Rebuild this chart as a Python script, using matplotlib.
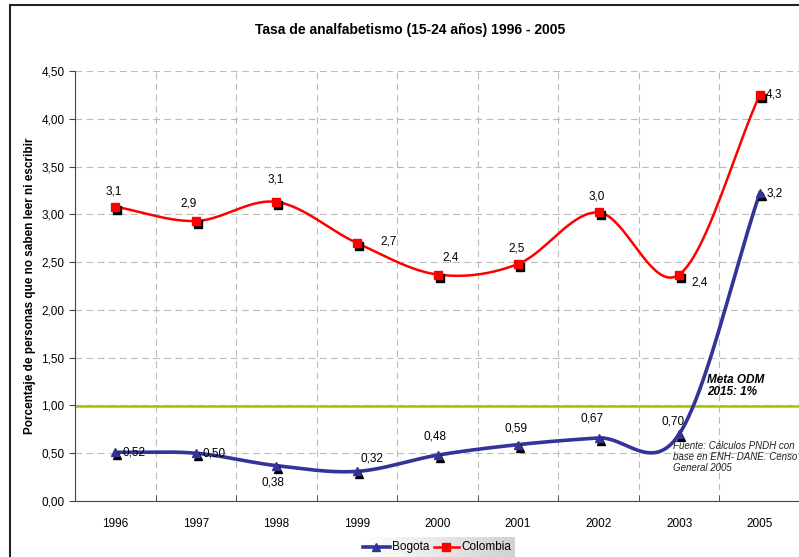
import numpy as np
import matplotlib
matplotlib.use("Agg")
import matplotlib.pyplot as plt
from matplotlib.patches import Rectangle
import matplotlib.transforms as mtransforms

plt.rcParams['font.family'] = ['Liberation Sans', 'DejaVu Sans']

years = ['1996', '1997', '1998', '1999', '2000', '2001', '2002', '2003', '2005']
colombia = [3.08, 2.93, 3.13, 2.70, 2.37, 2.48, 3.02, 2.37, 4.25]
colombia_labels = ['3,1', '2,9', '3,1', '2,7', '2,4', '2,5', '3,0', '2,4', '4,3']
bogota = [0.51, 0.50, 0.37, 0.31, 0.48, 0.59, 0.66, 0.70, 3.22]
bogota_labels = ['0,52', '0,50', '0,38', '0,32', '0,48', '0,59', '0,67', '0,70', '3,2']
meta_odm = 0.99

# label offsets in pixels (dx, dy; dy positive = up)
col_off = [(-2, 15), (-7, 18), (-1, 22), (32, 2), (13, 17), (-1, 16), (-2, 16), (20, -8), (14, 0)]
bog_off = [(19, 0), (18, 0), (-3, -17), (15, 13), (-2, 19), (-2, 16), (-7, 19), (-6, 13), (15, 0)]


def catmull_rom(y, n=40):
    x = np.arange(len(y), dtype=float)
    y = np.asarray(y, dtype=float)
    px = np.concatenate([[2 * x[0] - x[1]], x, [2 * x[-1] - x[-2]]])
    py = np.concatenate([[2 * y[0] - y[1]], y, [2 * y[-1] - y[-2]]])
    xs, ys = [], []
    t = np.linspace(0, 1, n)
    for i in range(1, len(px) - 2):
        for p, out in ((px, xs), (py, ys)):
            p0, p1, p2, p3 = p[i - 1], p[i], p[i + 1], p[i + 2]
            out.append(0.5 * ((2 * p1) + (-p0 + p2) * t
                              + (2 * p0 - 5 * p1 + 4 * p2 - p3) * t ** 2
                              + (-p0 + 3 * p1 - 3 * p2 + p3) * t ** 3))
    return np.concatenate(xs), np.concatenate(ys)


fig = plt.figure(figsize=(7.99, 5.57), dpi=100)
fig.patches.append(Rectangle((10 / 799, -0.01), 1.0, 1 - 5 / 557 + 0.01, transform=fig.transFigure,
                             fill=False, edgecolor='#222222', linewidth=1.5, zorder=0))
ax = fig.add_axes([75 / 799, 1 - 501 / 557, 725 / 799, 430 / 557])

x = np.arange(len(years))
ax.set_xlim(-0.5, len(years) - 0.5)
ax.set_ylim(0, 4.5)

ax.axhline(meta_odm, color='#99cc00', linewidth=1.8, zorder=2)

sx, sy = catmull_rom(bogota)
ax.plot(sx, sy, color='#333399', linewidth=2.6, zorder=3)
sx, sy = catmull_rom(colombia)
ax.plot(sx, sy, color='#ff0000', linewidth=1.8, zorder=3)

shadow = mtransforms.offset_copy(ax.transData, fig=fig, x=2, y=-3, units='dots')
ax.plot(x, bogota, linestyle='none', marker='^', markersize=6, color='black', transform=shadow, zorder=4)
ax.plot(x, bogota, linestyle='none', marker='^', markersize=6, color='#333399', zorder=5)
ax.plot(x, colombia, linestyle='none', marker='s', markersize=5.5, color='black', transform=shadow, zorder=4)
ax.plot(x, colombia, linestyle='none', marker='s', markersize=5.5, color='#ff0000', zorder=5)

for i in range(len(years)):
    dx, dy = col_off[i]
    ax.annotate(colombia_labels[i], (x[i], colombia[i]), xytext=(dx * 0.72, dy * 0.72),
                textcoords='offset points', ha='center', va='center', fontsize=8.5)
    dx, dy = bog_off[i]
    ax.annotate(bogota_labels[i], (x[i], bogota[i]), xytext=(dx * 0.72, dy * 0.72),
                textcoords='offset points', ha='center', va='center', fontsize=8.5)

ax.set_yticks(np.arange(0, 4.51, 0.5))
ax.set_yticklabels([f'{v:.2f}'.replace('.', ',') for v in np.arange(0, 4.51, 0.5)], fontsize=8.5)
ax.set_xticks(x)
ax.set_xticklabels(years, fontsize=8.5)
ax.set_xticks(np.arange(-0.5, len(years), 1), minor=True)
ax.tick_params(axis='x', which='major', length=0, pad=12)
ax.tick_params(axis='x', which='minor', length=4, color='#444444', direction='in')
ax.tick_params(axis='y', length=4, color='#444444', direction='out')
ax.grid(True, axis='y', linestyle=(0, (6, 4)), color='#bbbbbb', linewidth=0.8)
ax.grid(True, axis='x', which='minor', linestyle=(0, (6, 4)), color='#bbbbbb', linewidth=0.8)
ax.grid(False, axis='x', which='major')
for s in ('top', 'right'):
    ax.spines[s].set_visible(False)
ax.spines['left'].set_color('#444444')
ax.spines['bottom'].set_color('#444444')

ax.set_ylabel('Porcentaje de personas que no saben leer ni escribir', fontsize=8.5,
              fontweight='bold', labelpad=4)
fig.text(410 / 799, 1 - 30 / 557, 'Tasa de analfabetismo (15-24 años) 1996 - 2005',
         ha='center', va='center', fontsize=10, fontweight='bold')

fig.text(707 / 799, 1 - 386 / 557, 'Meta ODM\n2015: 1%', ha='left', va='center',
         fontsize=8.5, fontweight='bold', style='italic', linespacing=1.1)
fig.text(673 / 799, 1 - 457 / 557, 'Fuente: Cálculos PNDH con\nbase en ENH- DANE. Censo\nGeneral 2005',
         ha='left', va='center', fontsize=7, style='italic', color='#222222', linespacing=1.15)

leg_ax = fig.add_axes([360 / 799, 0, 155 / 799, 20 / 557])
leg_ax.set_xlim(0, 155)
leg_ax.set_ylim(0, 20)
leg_ax.imshow(np.linspace(1.0, 0.82, 64).reshape(1, -1), cmap='gray', vmin=0, vmax=1,
              extent=(0, 155, 0, 20), aspect='auto')
leg_ax.plot([3, 30], [10, 10], color='#333399', linewidth=2.6)
leg_ax.plot([16], [10], marker='^', color='#333399', markersize=6)
leg_ax.text(32, 10, 'Bogota', va='center', fontsize=8.5)
leg_ax.plot([74, 99], [10, 10], color='#ff0000', linewidth=1.8)
leg_ax.plot([86], [10], marker='s', color='#ff0000', markersize=5.5)
leg_ax.text(101, 10, 'Colombia', va='center', fontsize=8.5)
leg_ax.axis('off')

fig.savefig('out.png', dpi=100)
